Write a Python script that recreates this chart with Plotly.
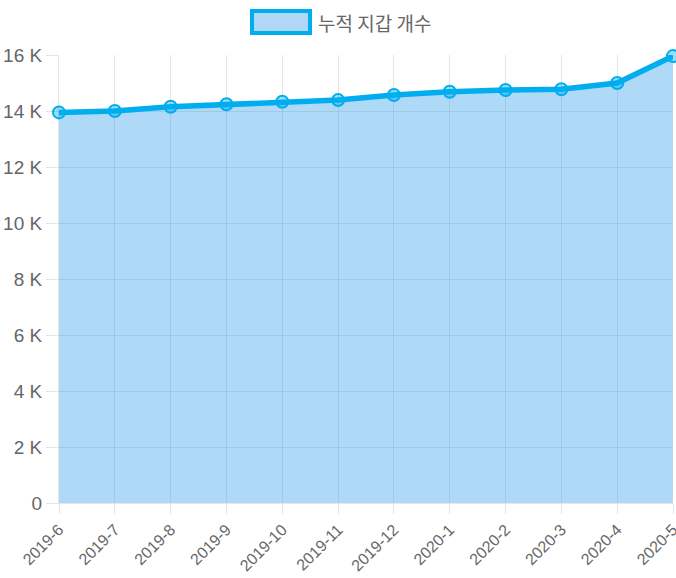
import plotly.graph_objects as go

categories = ["2019-6", "2019-7", "2019-8", "2019-9", "2019-10", "2019-11",
              "2019-12", "2020-1", "2020-2", "2020-3", "2020-4", "2020-5"]
wallets = [13950, 14000, 14150, 14240, 14330, 14390, 14570, 14690, 14750, 14775, 15000, 15960]
series_name = "누적 지갑 개수"
y_tickvals = [0, 2000, 4000, 6000, 8000, 10000, 12000, 14000, 16000]
y_ticktext = ["0", "2 K", "4 K", "6 K", "8 K", "10 K", "12 K", "14 K", "16 K"]

LINE = "rgb(0,174,239)"
FILL = "rgba(54,162,235,0.4)"
GRID = "rgba(0,0,0,0.1)"
FONT = "Liberation Sans Narrow, Liberation Sans, Arial, sans-serif"

L, R, T, B = 59, 3, 55, 75
PW, PH = 676 - L - R, 578 - T - B

fig = go.Figure()
fig.add_trace(go.Scatter(
    x=categories, y=wallets, mode="lines+markers", fill="tozeroy",
    fillcolor=FILL, line=dict(color=LINE, width=5.5),
    marker=dict(size=12, color="rgba(0,174,239,0.4)", line=dict(color=LINE, width=2)),
    name=series_name, showlegend=False, cliponaxis=False,
))

# custom legend (Chart.js style box + label)
fig.add_shape(type="rect", xref="paper", yref="paper",
              x0=(252 - L) / PW, x1=(310 - L) / PW,
              y0=(578 - B - 11) / PH, y1=(578 - B - 33) / PH,
              line=dict(color=LINE, width=4), fillcolor="rgb(176,216,245)")
fig.add_annotation(text=series_name, xref="paper", yref="paper",
                   x=(316 - L) / PW, y=(578 - B - 22) / PH,
                   xanchor="left", yanchor="middle", showarrow=False,
                   font=dict(family="Noto Sans CJK KR", size=19, color="#666"))

fig.update_layout(
    width=676, height=578,
    margin=dict(l=L, r=R, t=T, b=B),
    paper_bgcolor="white", plot_bgcolor="white",
    font=dict(family=FONT, size=19, color="#666"),
    xaxis=dict(type="category", range=[0, 11], showgrid=True, gridcolor=GRID,
               ticks="outside", ticklen=10, tickcolor=GRID, tickangle=-45,
               tickfont=dict(size=16), showline=True, linecolor=GRID,
               zeroline=False, automargin=False),
    yaxis=dict(range=[0, 16000], tickvals=y_tickvals, ticktext=y_ticktext,
               showgrid=True, gridcolor=GRID, ticks="outside", ticklen=12,
               tickcolor=GRID, showline=True, linecolor=GRID, zeroline=False,
               tickfont=dict(size=19), automargin=False),
)

fig.write_html("out.html", config={"displayModeBar": False},
               post_script="document.body.style.margin='0';")
